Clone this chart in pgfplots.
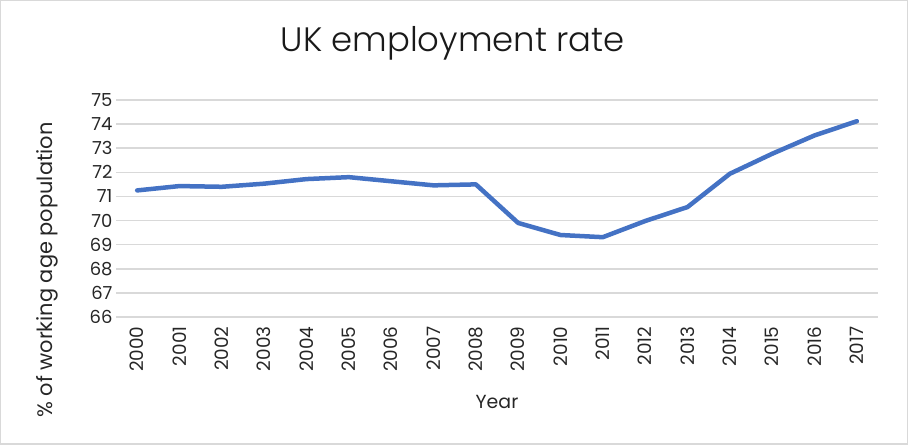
\documentclass[border=0pt]{standalone}
\usepackage{pgfplots}
\pgfplotsset{compat=1.18}
\usepackage{fontspec}
\setmainfont{Poppins}
\newfontfamily\titlefont{Poppins}[UprightFont={* Light}]
\definecolor{gridgray}{RGB}{217,217,217}
\definecolor{lineblue}{RGB}{68,114,196}
\definecolor{framegray}{RGB}{217,217,217}
\begin{document}
\begin{tikzpicture}[x=1bp,y=1bp]
\path[use as bounding box] (0,0) rectangle (908,445);
\draw[framegray, line width=1.5bp] (0.75,0.75) rectangle (907.25,444.25);
\begin{axis}[
  at={(116bp,128bp)}, anchor=south west,
  scale only axis, width=762bp, height=217bp,
  xmin=-0.5, xmax=17.5, ymin=66, ymax=75,
  ytick={66,67,68,69,70,71,72,73,74,75},
  xtick={0,...,17},
  xticklabels={2000,2001,2002,2003,2004,2005,2006,2007,2008,2009,2010,2011,2012,2013,2014,2015,2016,2017},
  /pgf/number format/assume math mode=true,
  axis line style={draw=none},
  major tick length=0pt,
  ymajorgrids,
  grid style={gridgray, line width=1.5bp},
  xticklabel shift={6bp},
  x tick label style={rotate=90, anchor=east, font=\fontsize{18.5}{18.5}\selectfont, color=black!85},
  y tick label style={font=\fontsize{18}{18}\selectfont, color=black!85},
  xlabel={Year},
  ylabel={\% of working age population},
  xlabel style={at={(axis description cs:0.5,-0.424)}, anchor=base, font=\fontsize{19}{19}\selectfont, color=black!85},
  ylabel style={at={(axis description cs:-0.0906,0.2166)}, anchor=center, rotate=0, font=\fontsize{21}{21}\selectfont, color=black!85},
  title={UK employment rate},
  title style={at={(axis description cs:0.442,1.198)}, anchor=base, font=\titlefont\fontsize{34}{34}\selectfont, color=black!90},
]
\addplot[lineblue, line width=4.5bp, line cap=round, line join=round] coordinates {
(0,71.25) (1,71.43) (2,71.40) (3,71.53) (4,71.72) (5,71.80) (6,71.63) (7,71.46) (8,71.50)
(9,69.90) (10,69.40) (11,69.31) (12,69.98) (13,70.56) (14,71.94) (15,72.77) (16,73.53) (17,74.12)
};
\end{axis}
\end{tikzpicture}
\end{document}
